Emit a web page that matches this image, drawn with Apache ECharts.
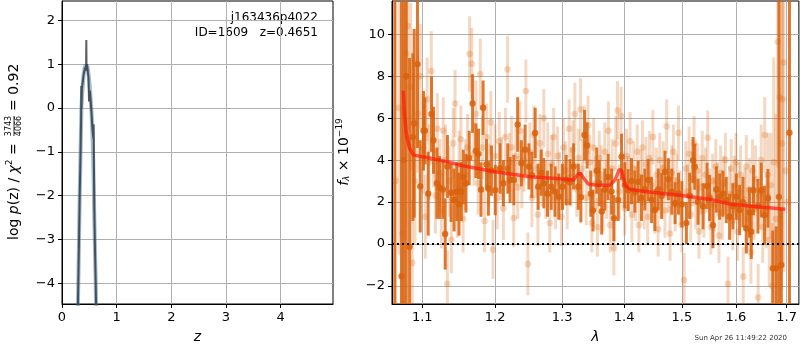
<!DOCTYPE html>
<html>
<head>
<meta charset="UTF-8">
<title>j163436p4022 fit</title>
<script src="https://cdn.jsdelivr.net/npm/echarts@6/dist/echarts.min.js"></script>
<style>
  html, body, #main { margin: 0; padding: 0; width: 800px; height: 350px; background: #fff; }
</style>
</head>
<body>
<div id="main"></div>
<script>
// ---- left panel: log p(z) ----
var zSmooth = [0.29, 0.305, 0.324, 0.34, 0.355, 0.37, 0.39, 0.41, 0.43, 0.45, 0.47, 0.49, 0.51, 0.525, 0.54, 0.555, 0.568, 0.58, 0.59, 0.605, 0.617, 0.625];
var pzSmooth = [-4.6, -3.5, -2.0, -1.0, 0.0, 0.35, 0.7, 0.88, 0.98, 1.0, 0.92, 0.72, 0.45, 0.2, -0.1, -0.5, -1.0, -1.7, -2.4, -3.3, -4.0, -4.6];
var zNoisy = [0.29, 0.305, 0.324, 0.34, 0.35, 0.353, 0.357, 0.365, 0.38, 0.40, 0.42, 0.44, 0.445, 0.45, 0.46, 0.47, 0.485, 0.49, 0.495, 0.50, 0.51, 0.525, 0.54, 0.555, 0.575, 0.58, 0.585, 0.59, 0.605, 0.617, 0.625];
var pzNoisy = [-4.6, -3.5, -2.0, -1.0, -0.2, 0.5, 0.0, 0.45, 0.6, 0.8, 0.9, 0.95, 1.55, 0.85, 1.0, 0.85, 0.7, 0.4, 0.15, 0.35, 0.4, 0.15, -0.1, -0.45, -0.7, -0.37, -1.37, -2.2, -3.3, -4.0, -4.6];

// ---- right panel: spectrum ----
var darkWave = [1.0645, 1.0731, 1.0762, 1.0792, 1.0835, 1.0878, 1.0895, 1.0938, 1.0974, 1.1017, 1.1035, 1.1079, 1.1123, 1.1149, 1.1194, 1.1229, 1.1275, 1.1306, 1.1336, 1.1386, 1.1427, 1.1463, 1.1494, 1.1526, 1.1553, 1.1590, 1.1635, 1.1682, 1.1728, 1.1765, 1.1800, 1.1830, 1.1877, 1.1905, 1.1948, 1.2003, 1.2072, 1.2120, 1.2184, 1.2217, 1.2272, 1.2328, 1.2383, 1.2439, 1.2495, 1.2540, 1.2589, 1.2634, 1.2680, 1.2720, 1.2776, 1.2833, 1.2890, 1.2948, 1.3006, 1.3064, 1.3122, 1.3180, 1.3254, 1.3295, 1.3354, 1.3395, 1.3453, 1.3489, 1.3549, 1.3590, 1.3631, 1.3682, 1.3736, 1.3792, 1.3830, 1.3901, 1.3957, 1.4012, 1.4068, 1.4124, 1.4180, 1.4237, 1.4294, 1.4351, 1.4408, 1.4467, 1.4525, 1.4583, 1.4643, 1.4701, 1.4760, 1.4820, 1.4879, 1.4939, 1.5000, 1.5081, 1.5141, 1.5201, 1.5232, 1.5293, 1.5383, 1.5459, 1.5506, 1.5567, 1.5630, 1.5692, 1.5754, 1.5817, 1.5880, 1.5943, 1.6008, 1.6071, 1.6135, 1.6199, 1.6263, 1.6296, 1.6340, 1.6426, 1.6493, 1.6557, 1.6624, 1.6721, 1.6789, 1.6844, 1.6892, 1.7057];
var darkFlux = [13.0, -1.53, 4.0, 8.0, -0.13, 5.1, 5.76, 8.58, 2.75, 5.4, 5.4, 2.4, 6.2, 4.95, 2.9, 2.7, 2.6, 0.48, 3.7, 2.45, 2.1, 2.5, 1.9, 2.5, 3.2, 2.9, 4.1, 6.7, 4.45, 4.3, 2.6, 6.5, 3.8, 2.65, 3.5, 2.57, 3.6, 2.9, 3.6, 3.05, 3.05, 5.7, 3.85, 4.5, 3.7, 3.3, 5.3, 2.73, 3.4, 2.9, 2.4, 2.73, 2.5, 2.26, 2.73, 3.05, 2.95, 3.7, 2.73, 2.23, 5.2, 4.7, 2.4, 1.6, 3.5, 2.9, 1.55, 2.6, 3.2, 2.5, 1.23, 2.1, 4.16, 2.8, 2.57, 3.0, 2.5, 2.97, 2.2, 2.6, 3.05, 2.1, 1.62, 2.6, 2.3, 3.45, 3.09, 2.5, 1.95, 2.4, 1.9, 1.0, 2.3, 4.0, 3.69, 2.02, 1.8, 2.77, 2.2, 0.9, 2.6, 2.26, 2.4, 2.1, 1.3, 1.8, 2.26, 1.62, 2.0, 0.75, 1.5, 0.59, 2.57, 1.8, 2.57, 1.38, 2.18, -1.16, -1.16, 2.25, -1.0, 5.31];
var darkErr = [18, 15, 14, 12, 9, 4, 4.5, 4, 2.2, 1.9, 1.6, 2.0, 1.8, 1.6, 1.7, 1.5, 1.4, 1.7, 1.5, 1.4, 1.5, 1.4, 1.5, 1.4, 1.3, 1.4, 1.3, 1.4, 1.3, 1.2, 1.3, 1.3, 1.2, 1.3, 1.2, 1.2, 1.2, 1.1, 1.2, 1.1, 1.2, 1.3, 1.1, 1.2, 1.1, 1.1, 1.2, 1.1, 1.1, 1.2, 1.1, 1.1, 1.2, 1.1, 1.1, 1.2, 1.1, 1.1, 1.1, 1.2, 1.2, 1.1, 1.1, 1.0, 1.1, 1.1, 1.1, 1.0, 1.1, 1.1, 1.1, 1.0, 1.1, 1.1, 1.0, 1.1, 1.0, 1.0, 1.1, 1.0, 1.0, 1.1, 1.0, 1.0, 1.1, 1.0, 1.0, 1.1, 1.0, 1.0, 1.1, 1.0, 1.1, 1.1, 1.1, 1.1, 1.1, 1.1, 1.1, 1.1, 1.1, 1.1, 1.1, 1.1, 1.1, 1.1, 1.1, 1.2, 1.2, 1.2, 1.2, 1.3, 1.2, 1.3, 1.3, 1.4, 1.4, 1.8, 2.0, 14, 2.7, 16];

var lightWave = [1.0655, 1.0700, 1.0745, 1.0790, 1.0812, 1.0850, 1.0870, 1.0905, 1.0940, 1.0975, 1.1010, 1.1040, 1.1065, 1.1090, 1.1120, 1.1150, 1.1175, 1.1200, 1.1230, 1.1255, 1.1280, 1.1310, 1.1335, 1.1360, 1.1390, 1.1415, 1.1440, 1.1470, 1.1495, 1.1520, 1.1550, 1.1580, 1.1610, 1.1640, 1.1670, 1.1700, 1.1730, 1.1760, 1.1790, 1.1820, 1.1850, 1.1880, 1.1910, 1.1940, 1.1970, 1.2000, 1.2030, 1.2060, 1.2090, 1.2120, 1.2150, 1.2180, 1.2210, 1.2240, 1.2270, 1.2300, 1.2330, 1.2360, 1.2390, 1.2420, 1.2450, 1.2480, 1.2510, 1.2540, 1.2570, 1.2600, 1.2630, 1.2660, 1.2690, 1.2720, 1.2750, 1.2780, 1.2810, 1.2840, 1.2870, 1.2900, 1.2930, 1.2960, 1.2990, 1.3020, 1.3050, 1.3080, 1.3110, 1.3140, 1.3170, 1.3200, 1.3230, 1.3260, 1.3290, 1.3320, 1.3350, 1.3380, 1.3410, 1.3440, 1.3470, 1.3500, 1.3530, 1.3560, 1.3590, 1.3620, 1.3650, 1.3680, 1.3710, 1.3740, 1.3770, 1.3800, 1.3830, 1.3860, 1.3890, 1.3920, 1.3950, 1.3980, 1.4010, 1.4040, 1.4070, 1.4100, 1.4130, 1.4160, 1.4190, 1.4220, 1.4250, 1.4280, 1.4310, 1.4340, 1.4370, 1.4400, 1.4430, 1.4460, 1.4490, 1.4520, 1.4550, 1.4580, 1.4610, 1.4640, 1.4670, 1.4700, 1.4730, 1.4760, 1.4790, 1.4820, 1.4850, 1.4880, 1.4910, 1.4940, 1.4970, 1.5000, 1.5040, 1.5070, 1.5100, 1.5130, 1.5160, 1.5190, 1.5220, 1.5250, 1.5280, 1.5310, 1.5340, 1.5370, 1.5400, 1.5430, 1.5470, 1.5500, 1.5530, 1.5560, 1.5590, 1.5620, 1.5650, 1.5680, 1.5710, 1.5740, 1.5770, 1.5800, 1.5850, 1.5880, 1.5910, 1.5940, 1.5970, 1.6000, 1.6030, 1.6060, 1.6090, 1.6140, 1.6170, 1.6200, 1.6230, 1.6260, 1.6290, 1.6320, 1.6350, 1.6380, 1.6430, 1.6460, 1.6490, 1.6520, 1.6560, 1.6590, 1.6620, 1.6650, 1.6680, 1.6710, 1.6740, 1.6780, 1.6820, 1.6860, 1.6900, 1.6920, 1.6940, 1.6980, 1.7020];
var lightFlux = [3.0, 6.5, 0.5, 9.1, 10.4, 7.5, -0.9, 3.0, 6.2, 8.0, 4.6, 1.3, 6.9, 3.9, 8.25, 4.4, 2.3, 5.5, 3.4, 1.6, 5.4, 4.0, -1.9, 3.0, 0.2, 4.8, 6.7, 2.0, 3.8, 5.0, 1.2, 3.3, 4.6, 9.06, 8.6, 4.3, 6.2, 2.9, 8.1, 4.6, 1.1, 5.1, 3.3, 5.8, -0.26, 4.2, 2.2, 4.9, 3.6, 1.7, 5.1, 8.33, 3.9, 4.6, 1.24, 4.2, 2.7, 5.4, 3.1, 4.0, 7.3, -0.95, 4.4, 2.2, 5.2, 3.6, 1.4, 4.8, 3.2, 6.0, 2.6, 4.3, 1.0, 3.8, 5.1, 2.2, 4.2, 3.0, 1.3, 4.6, 3.5, 2.0, 5.5, 3.2, 4.5, 6.2, 2.6, 4.1, 6.42, 3.6, 5.2, 2.2, 5.67, 3.9, 1.0, 4.6, 2.9, 0.8, 4.1, 3.3, 1.9, 4.4, 2.6, 5.4, 0.9, 3.6, -0.2, 4.8, 6.37, 2.5, 6.1, 3.1, 1.7, 4.2, 2.9, 4.9, 1.4, 3.6, 2.4, 4.4, 0.9, 3.2, 4.6, 2.0, 3.8, 1.3, 4.1, 2.8, 5.1, 1.8, 3.3, 0.7, 4.0, 2.5, 3.6, 1.6, 5.6, 2.8, 0.5, 3.4, 4.4, 1.9, 3.0, 5.3, 2.2, 0.9, -1.72, 3.6, 2.5, 4.3, 1.4, 3.1, 4.8, 2.0, 3.5, 0.6, 2.7, 4.1, 1.6, 3.3, 5.07, 2.3, 0.8, 3.0, 1.9, 3.7, 2.6, 0.4, 3.4, 1.5, 2.9, 4.0, -1.9, 2.4, 3.6, 1.1, 2.8, 3.9, 0.6, 2.5, 3.3, -1.55, 2.1, 3.7, 1.2, 2.6, -0.4, 3.5, 1.7, 3.1, -2.55, 2.3, 4.0, 0.8, 5.2, 1.6, 3.3, 0.2, 2.8, -2.0, 3.9, 1.2, 9.65, 7.0, 4.8, 6.9, 8.66, 3.5, 2.0];
var lightErr = [9, 7, 6, 5, 5, 4, 3, 3, 2.8, 2.5, 2.2, 2.0, 2.0, 1.8, 1.9, 1.7, 1.8, 1.7, 1.6, 1.8, 1.6, 1.7, 1.6, 1.7, 1.6, 1.7, 1.6, 1.7, 1.6, 1.6, 1.6, 1.7, 1.6, 1.8, 1.7, 1.5, 1.6, 1.5, 1.7, 1.5, 1.5, 1.6, 1.5, 1.5, 1.4, 1.5, 1.5, 1.4, 1.5, 1.5, 1.4, 1.6, 1.4, 1.5, 1.4, 1.4, 1.5, 1.4, 1.4, 1.5, 1.5, 1.5, 1.4, 1.4, 1.4, 1.4, 1.5, 1.4, 1.4, 1.4, 1.4, 1.5, 1.4, 1.4, 1.4, 1.5, 1.4, 1.4, 1.4, 1.4, 1.4, 1.3, 1.4, 1.4, 1.4, 1.5, 1.3, 1.4, 1.5, 1.4, 1.4, 1.3, 1.4, 1.3, 1.4, 1.4, 1.3, 1.4, 1.3, 1.4, 1.3, 1.4, 1.4, 1.4, 1.3, 1.4, 1.3, 1.3, 1.4, 1.3, 1.4, 1.3, 1.3, 1.3, 1.3, 1.4, 1.3, 1.3, 1.3, 1.3, 1.3, 1.3, 1.3, 1.3, 1.3, 1.3, 1.3, 1.3, 1.3, 1.3, 1.3, 1.3, 1.3, 1.3, 1.3, 1.3, 1.3, 1.3, 1.3, 1.3, 1.3, 1.3, 1.3, 1.3, 1.3, 1.3, 1.3, 1.3, 1.3, 1.3, 1.3, 1.3, 1.3, 1.3, 1.3, 1.3, 1.3, 1.3, 1.3, 1.3, 1.3, 1.3, 1.3, 1.3, 1.3, 1.3, 1.3, 1.3, 1.3, 1.3, 1.3, 1.3, 1.3, 1.3, 1.4, 1.4, 1.4, 1.4, 1.4, 1.4, 1.4, 1.4, 1.5, 1.5, 1.5, 1.5, 1.5, 1.5, 1.5, 1.6, 1.6, 1.6, 1.7, 1.7, 1.8, 1.8, 2.0, 2.2, 2.5, 3, 5, 5, 6, 6, 7, 8, 10];

var modelWave = [1.0753, 1.0769, 1.0793, 1.0835, 1.0887, 1.1062, 1.1327, 1.1546, 1.1999, 1.2512, 1.3018, 1.3175, 1.3238, 1.3280, 1.3323, 1.3413, 1.3547, 1.3764, 1.3847, 1.3919, 1.3959, 1.4015, 1.4096, 1.4379, 1.4667, 1.4961, 1.5262, 1.5568, 1.5880, 1.6199, 1.6523, 1.6975];
var modelFlux = [7.31, 6.23, 5.28, 4.56, 4.24, 4.13, 3.93, 3.73, 3.45, 3.21, 3.10, 3.05, 3.29, 3.40, 3.21, 2.86, 2.80, 2.80, 3.05, 3.56, 3.50, 2.81, 2.61, 2.49, 2.41, 2.33, 2.22, 2.10, 1.91, 1.83, 1.75, 1.66];

var zTicks = [0, 1, 2, 3, 4];
var pzTicks = [-4, -3, -2, -1, 0, 1, 2];
var waveTicks = [1.1, 1.2, 1.3, 1.4, 1.5, 1.6, 1.7];
var fluxTicks = [-2, 0, 2, 4, 6, 8, 10];

var ORANGE = '#d9620c';
var FONT = 'DejaVu Sans';

function zip(a, b, c) {
    return a.map(function (v, i) { return c ? [v, b[i], c[i]] : [v, b[i]]; });
}
function minus(v) { return String(v).replace('-', '\u2212'); }

// error bar + dot, drawn through the axes of the grid
function errBar(opacity, lw, r) {
    return function (params, api) {
        var x = api.value(0), y = api.value(1), e = api.value(2);
        var c = api.coord([x, y]);
        var t = api.coord([x, y + e]);
        var b = api.coord([x, y - e]);
        return {
            type: 'group',
            children: [
                {type: 'line', shape: {x1: c[0], y1: t[1], x2: c[0], y2: b[1]},
                    style: {stroke: ORANGE, lineWidth: lw, opacity: opacity}},
                {type: 'circle', shape: {cx: c[0], cy: c[1], r: r},
                    style: {fill: ORANGE, opacity: opacity}}
            ]
        };
    };
}

function axisCommon(ticks, fmt) {
    return {
        axisLine: {show: true, onZero: false, lineStyle: {color: '#000', width: 1}},
        axisTick: {show: true, length: 4, inside: false, customValues: ticks, lineStyle: {color: '#000'}},
        axisLabel: {customValues: ticks, color: '#000', fontFamily: FONT, fontSize: 13, margin: 7, formatter: fmt},
        splitLine: {show: true, lineStyle: {color: '#b0b0b0', width: 1}}
    };
}

var chart = echarts.init(document.getElementById('main'), null, {renderer: 'canvas'});
var option = {
    animation: false,
    backgroundColor: '#fff',
    grid: [
        {left: 62, top: 1, width: 271, height: 303, show: true, borderColor: '#000', borderWidth: 1, backgroundColor: 'transparent'},
        {left: 392, top: 1, width: 407, height: 303, show: true, borderColor: '#000', borderWidth: 1, backgroundColor: 'transparent'}
    ],
    xAxis: [
        Object.assign({type: 'value', gridIndex: 0, min: 0, max: 4.96,
            name: 'z', nameLocation: 'middle', nameGap: 26,
            nameTextStyle: {fontFamily: FONT, fontSize: 14, fontStyle: 'italic', color: '#000'}},
            axisCommon(zTicks, function (v) { return minus(v); })),
        Object.assign({type: 'log', gridIndex: 1, min: 1.061, max: 1.725,
            name: '\u03bb', nameLocation: 'middle', nameGap: 26,
            nameTextStyle: {fontFamily: FONT, fontSize: 14, fontStyle: 'italic', color: '#000'}},
            axisCommon(waveTicks, function (v) { return (+v).toFixed(1); }))
    ],
    yAxis: [
        Object.assign({type: 'value', gridIndex: 0, min: -4.47, max: 2.44},
            axisCommon(pzTicks, function (v) { return minus(v); })),
        Object.assign({type: 'value', gridIndex: 1, min: -2.86, max: 11.59},
            axisCommon(fluxTicks, function (v) { return minus(v); }))
    ],
    series: [
        {type: 'line', xAxisIndex: 0, yAxisIndex: 0, data: zip(zSmooth, pzSmooth), showSymbol: false, clip: true,
            lineStyle: {color: '#4f86b5', width: 4, opacity: 0.55}},
        {type: 'line', xAxisIndex: 0, yAxisIndex: 0, data: zip(zNoisy, pzNoisy), showSymbol: false, clip: true,
            lineStyle: {color: '#2b2b2b', width: 2, opacity: 0.75}},
        {type: 'custom', xAxisIndex: 1, yAxisIndex: 1, clip: true, z: 2,
            renderItem: errBar(0.25, 3, 3.3), data: zip(lightWave, lightFlux, lightErr)},
        {type: 'custom', xAxisIndex: 1, yAxisIndex: 1, clip: true, z: 3,
            renderItem: errBar(0.85, 3, 3.2), data: zip(darkWave, darkFlux, darkErr)},
        {type: 'line', xAxisIndex: 1, yAxisIndex: 1, z: 4, data: zip(modelWave, modelFlux), showSymbol: false, clip: true,
            lineStyle: {color: '#ff1a0a', width: 3.5, opacity: 0.7},
            markLine: {silent: true, symbol: 'none', label: {show: false},
                lineStyle: {color: '#000', width: 2, type: [2, 3], opacity: 1},
                data: [{yAxis: 0}]}}
    ],
    graphic: [
        {type: 'text', right: 800 - 318, top: 12, style: {text: 'j163436p4022', font: '12px "DejaVu Sans"', fill: '#000', align: 'right'}},
        {type: 'text', right: 800 - 318, top: 27, style: {text: 'ID=1609   z=0.4651', font: '12px "DejaVu Sans"', fill: '#000', align: 'right'}},
        {type: 'group', x: 14, y: 152, rotation: Math.PI / 2, children: [
            {type: 'text', x: -88, y: 0, style: {
                text: '{a|log }{i|p}{a|(z) / }{i|\u03c7}{s|2}{a| =}',
                verticalAlign: 'middle', align: 'left',
                rich: {
                    a: {fontFamily: FONT, fontSize: 14, fill: '#000'},
                    i: {fontFamily: FONT, fontSize: 14, fontStyle: 'italic', fill: '#000'},
                    s: {fontFamily: FONT, fontSize: 9, fill: '#000', verticalAlign: 'top', padding: [0, 0, 8, 0]}
                }}},
            {type: 'text', x: 26, y: -5, style: {text: '3743', font: '8px "DejaVu Sans"', fill: '#000', align: 'center', verticalAlign: 'middle'}},
            {type: 'line', shape: {x1: 16, y1: 0, x2: 36, y2: 0}, style: {stroke: '#000', lineWidth: 0.8}},
            {type: 'text', x: 26, y: 5, style: {text: '4066', font: '8px "DejaVu Sans"', fill: '#000', align: 'center', verticalAlign: 'middle'}},
            {type: 'text', x: 41, y: 0, style: {text: '= 0.92', font: '14px "DejaVu Sans"', fill: '#000', align: 'left', verticalAlign: 'middle'}}
        ]},
        {type: 'text', x: 344, y: 152, rotation: Math.PI / 2, style: {
            text: '{i|f}{b|\u03bb}{a| \u00d7 10}{p|\u221219}',
            align: 'center', verticalAlign: 'middle',
            rich: {
                a: {fontFamily: FONT, fontSize: 14, fill: '#000'},
                i: {fontFamily: FONT, fontSize: 14, fontStyle: 'italic', fill: '#000'},
                b: {fontFamily: FONT, fontSize: 9, fontStyle: 'italic', fill: '#000', padding: [6, 0, 0, 0]},
                p: {fontFamily: FONT, fontSize: 9, fill: '#000', padding: [0, 0, 8, 0]}
            }}},
        {type: 'text', right: 800 - 787, top: 335, style: {text: 'Sun Apr 26 11:49:22 2020', font: '7px "DejaVu Sans"', fill: '#333', align: 'right'}}
    ]
};
chart.setOption(option);
</script>
</body>
</html>
